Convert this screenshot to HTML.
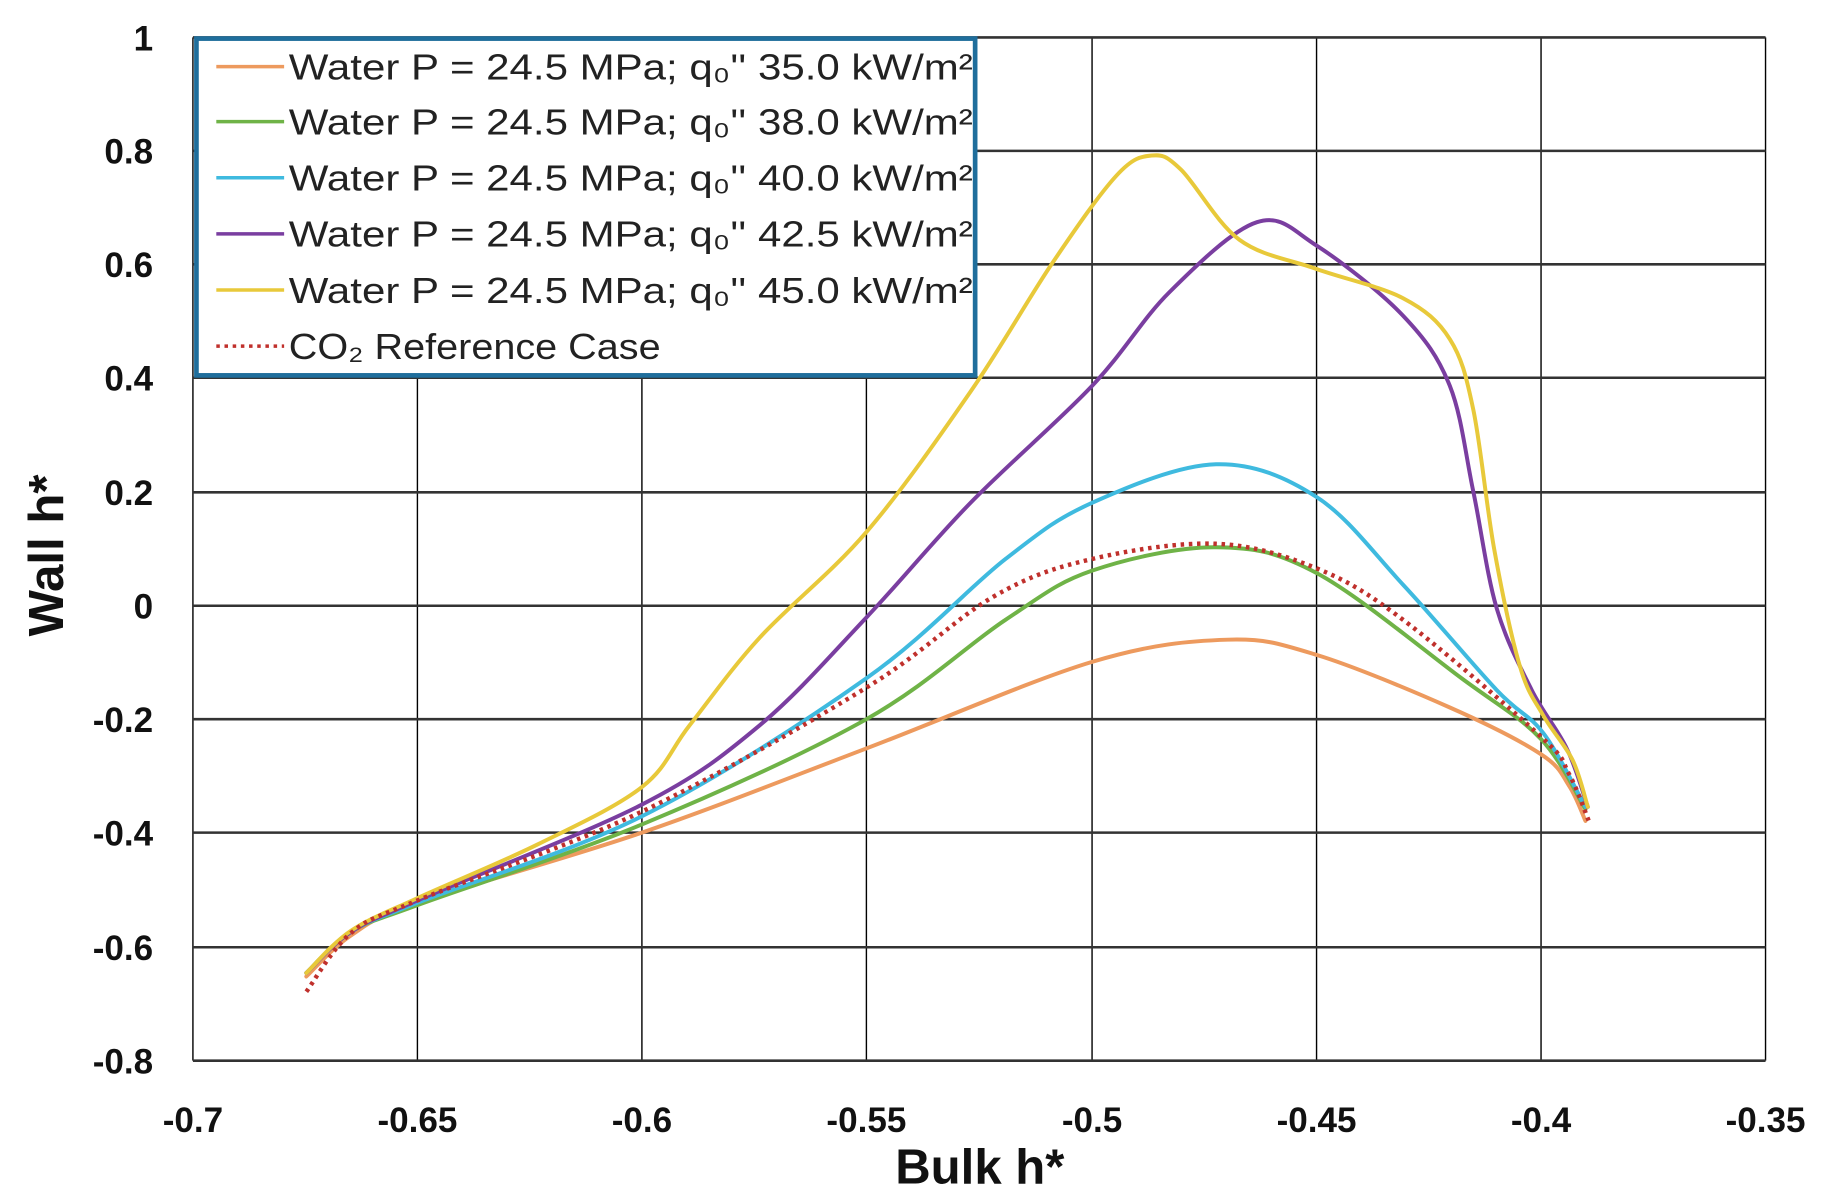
<!DOCTYPE html>
<html><head><meta charset="utf-8"><style>
html,body{margin:0;padding:0;background:#fff}
svg{display:block}
text{font-family:"Liberation Sans",sans-serif}
</style></head><body>
<svg id="s" width="1824" height="1201" viewBox="0 0 1560 1027" preserveAspectRatio="none" xmlns="http://www.w3.org/2000/svg">
<rect width="1560" height="1027" fill="#fff"/>
<g stroke="#000" stroke-width="1.2">
<line x1="357" y1="32" x2="357" y2="907"/><line x1="549" y1="32" x2="549" y2="907"/>
<line x1="741" y1="32" x2="741" y2="907"/><line x1="934" y1="32" x2="934" y2="907"/>
<line x1="1126" y1="32" x2="1126" y2="907"/><line x1="1318" y1="32" x2="1318" y2="907"/>
<line x1="1510" y1="32" x2="1510" y2="907"/><line x1="165" y1="32" x2="165" y2="907"/>
</g>
<g stroke="#333" stroke-width="2.2">
<line x1="165" y1="32" x2="1510" y2="32"/><line x1="165" y1="129" x2="1510" y2="129"/>
<line x1="165" y1="226" x2="1510" y2="226"/><line x1="165" y1="323" x2="1510" y2="323"/>
<line x1="165" y1="421" x2="1510" y2="421"/><line x1="165" y1="518" x2="1510" y2="518"/>
<line x1="165" y1="615" x2="1510" y2="615"/><line x1="165" y1="712" x2="1510" y2="712"/>
<line x1="165" y1="810" x2="1510" y2="810"/><line x1="165" y1="907" x2="1510" y2="907"/>
</g>
<g font-size="30" font-weight="bold" text-anchor="end" fill="#111">
<text x="131" y="43">1</text><text x="131" y="140">0.8</text><text x="131" y="237">0.6</text>
<text x="131" y="334">0.4</text><text x="131" y="432">0.2</text><text x="131" y="529">0</text>
<text x="131" y="626">-0.2</text><text x="131" y="723">-0.4</text><text x="131" y="821">-0.6</text>
<text x="131" y="918">-0.8</text>
</g>
<g font-size="30" font-weight="bold" text-anchor="middle" fill="#111">
<text x="165" y="968">-0.7</text><text x="357" y="968">-0.65</text><text x="549" y="968">-0.6</text>
<text x="741" y="968">-0.55</text><text x="934" y="968">-0.5</text><text x="1126" y="968">-0.45</text>
<text x="1318" y="968">-0.4</text><text x="1510" y="968">-0.35</text>
</g>
<text x="838" y="1012" font-size="42" font-weight="bold" text-anchor="middle" fill="#111">Bulk h*</text>
<text transform="translate(54,475) rotate(-90)" font-size="42" font-weight="bold" text-anchor="middle" fill="#111">Wall h*</text>
<g id="curves" fill="none" stroke-width="3.4" stroke-linecap="round" stroke-linejoin="round"></g>
<rect x="168" y="33" width="666" height="288" fill="#fff" stroke="#1f6e9c" stroke-width="4"/>
<g stroke-width="3">
<line x1="185" y1="57" x2="243" y2="57" stroke="#ed9a5e"/>
<line x1="185" y1="104" x2="243" y2="104" stroke="#6fb347"/>
<line x1="185" y1="152" x2="243" y2="152" stroke="#3fbadf"/>
<line x1="185" y1="200" x2="243" y2="200" stroke="#7a3ea0"/>
<line x1="185" y1="248" x2="243" y2="248" stroke="#e8c93a"/>
<line x1="185" y1="296" x2="243" y2="296" stroke="#c0302c" stroke-dasharray="3 4"/>
</g>
<g font-size="31" fill="#222">
<text x="247" y="68" textLength="585" lengthAdjust="spacingAndGlyphs">Water P = 24.5 MPa; q₀'' 35.0 kW/m²</text>
<text x="247" y="115" textLength="585" lengthAdjust="spacingAndGlyphs">Water P = 24.5 MPa; q₀'' 38.0 kW/m²</text>
<text x="247" y="163" textLength="585" lengthAdjust="spacingAndGlyphs">Water P = 24.5 MPa; q₀'' 40.0 kW/m²</text>
<text x="247" y="211" textLength="585" lengthAdjust="spacingAndGlyphs">Water P = 24.5 MPa; q₀'' 42.5 kW/m²</text>
<text x="247" y="259" textLength="585" lengthAdjust="spacingAndGlyphs">Water P = 24.5 MPa; q₀'' 45.0 kW/m²</text>
<text x="247" y="307" textLength="318" lengthAdjust="spacingAndGlyphs">CO₂ Reference Case</text>
</g>
</svg>
<script>
var S=[
["#ed9a5e",[[262,835],[300,800],[357,772],[549,712],[741,640],[934,566],[1050,547],[1126,560],[1240,605],[1318,645],[1342,672],[1356,702]],""],
["#6fb347",[[262,832],[300,797],[357,774],[549,705],[741,615],[860,530],[934,488],[1040,468],[1126,490],[1250,580],[1318,632],[1356,692]],""],
["#3fbadf",[[262,832],[300,797],[357,772],[549,698],[741,580],[860,478],[934,430],[1040,397],[1126,425],[1200,500],[1280,590],[1320,627],[1356,690]],""],
["#7a3ea0",[[262,832],[300,797],[357,770],[549,688],[650,620],[741,528],[830,430],[934,330],[1000,250],[1075,190],[1126,210],[1200,270],[1240,330],[1260,420],[1280,520],[1310,590],[1340,640],[1358,690]],""],
["#e8c93a",[[262,832],[300,796],[357,768],[460,722],[549,673],[590,620],[650,545],[741,455],[830,335],[900,225],[955,150],[985,133],[1010,145],[1060,205],[1126,230],[1200,255],[1240,290],[1260,350],[1278,470],[1300,570],[1320,612],[1345,650],[1358,690]],""],
["#c0302c",[[262,848],[300,798],[357,770],[549,694],[741,588],[850,510],[934,478],[1040,465],[1126,486],[1200,530],[1318,630],[1342,662],[1360,705]],"3 4"]
];
var g=document.getElementById("curves");
S.forEach(function(s){
var p=s[1],d="M"+p[0][0]+","+p[0][1];
for(var i=0;i<p.length-1;i++){
var p0=p[i-1]||p[i],p1=p[i],p2=p[i+1],p3=p[i+2]||p2;
var c1=[p1[0]+(p2[0]-p0[0])/6,p1[1]+(p2[1]-p0[1])/6],c2=[p2[0]-(p3[0]-p1[0])/6,p2[1]-(p3[1]-p1[1])/6];
d+=" C"+c1+" "+c2+" "+p2;}
var e=document.createElementNS("http://www.w3.org/2000/svg","path");
e.setAttribute("d",d);e.setAttribute("stroke",s[0]);
if(s[2]){e.setAttribute("stroke-dasharray",s[2]);e.setAttribute("stroke-width","3.8");e.setAttribute("stroke-linecap","butt");}
g.appendChild(e);});
</script>
</body></html>
